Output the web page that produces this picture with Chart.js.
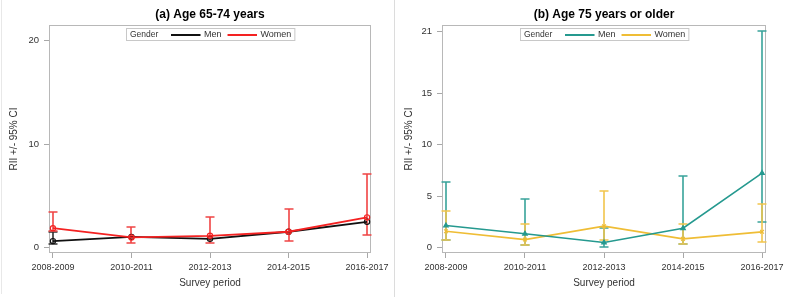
<!DOCTYPE html>
<html><head><meta charset="utf-8">
<script src="https://cdn.jsdelivr.net/npm/chart.js@4.4.1/dist/chart.umd.min.js"></script>
<style>
html,body{margin:0;padding:0;background:#fff;}
#wrap{position:relative;width:789px;height:297px;overflow:hidden;background:#fff;}
.panel{position:absolute;top:0;width:394px;height:297px;}
#pa{left:0;}
#pb{left:395px;}
#frameL{position:absolute;left:1px;top:0;width:1px;height:294px;background:#e8e8e8;}
#divider{position:absolute;left:394px;top:0;width:1px;height:297px;background:#dcdcdc;}
</style></head>
<body>
<div id="wrap">
  <div id="frameL"></div>
  <div id="divider"></div>
  <div class="panel" id="pa"><canvas id="ca" width="394" height="297"></canvas></div>
  <div class="panel" id="pb"><canvas id="cb" width="394" height="297"></canvas></div>
</div>
<script>
// ---------- data ----------
const categories = ['2008-2009','2010-2011','2012-2013','2014-2015','2016-2017'];

// (a) Age 65-74 years  (null = interval hidden behind the women's interval in the source)
const menA      = [0.65, 1.06, 0.87, 1.55, 2.51];
const menALow   = [0.33, null, null, null, null];
const menAHigh  = [1.50, null, null, null, null];
const womenA     = [1.90, 1.00, 1.16, 1.55, 2.94];
const womenALow  = [1.58, 0.43, 0.48, 0.62, 1.20];
const womenAHigh = [3.50, 2.00, 2.97, 3.70, 7.12];
const yTicksA = [0, 10, 20];

// (b) Age 75 years or older
const menB      = [2.16, 1.36, 0.52, 1.90, 7.25];
const menBLow   = [0.75, 0.32, 0.07, 0.42, 2.50];
const menBHigh  = [6.40, 4.71, 1.96, 6.97, 21.0];
const womenB     = [1.61, 0.80, 2.10, 0.87, 1.55];
const womenBLow  = [0.75, 0.30, 0.78, 0.42, 0.52];
const womenBHigh = [3.60, 2.30, 5.55, 2.30, 4.23];
const yTicksB = [0, 5, 10, 15, 21];

const FONT = "'Liberation Sans', Arial, sans-serif";
const TXT = '#333333';

// ---------- plugins ----------
const boxPlugin = {
  id:'box',
  beforeDatasetsDraw(chart){
    const a = chart.chartArea, c = chart.ctx;
    c.save(); c.strokeStyle='#b8b8b8'; c.lineWidth=1;
    c.strokeRect(Math.round(a.left)+0.5, Math.round(a.top)+0.5, Math.round(a.right-a.left)-1, Math.round(a.bottom-a.top)-1);
    c.restore();
  }
};
const errPlugin = {
  id:'err',
  beforeDatasetsDraw(chart){
    const c = chart.ctx, xs = chart.scales.x, ys = chart.scales.y;
    chart.data.datasets.forEach(ds=>{
      c.save(); c.strokeStyle = ds.errColor; c.lineWidth = 1.6;
      ds.errLow.forEach((lo,i)=>{
        const hi = ds.errHigh[i];
        if (lo == null || hi == null) return;
        const x = Math.round(xs.getPixelForValue(i));
        const y1 = Math.round(ys.getPixelForValue(lo)), y2 = Math.round(ys.getPixelForValue(hi));
        c.beginPath();
        c.moveTo(x,y1); c.lineTo(x,y2);
        c.moveTo(x-4.5,y1); c.lineTo(x+4.5,y1);
        c.moveTo(x-4.5,y2); c.lineTo(x+4.5,y2);
        c.stroke();
      });
      c.restore();
    });
  }
};
const titlePlugin = {
  id:'ttl',
  afterDraw(chart){
    const o = chart.options.plugins.ttl, a = chart.chartArea, c = chart.ctx;
    c.save(); c.font = "bold 12px "+FONT; c.fillStyle='#000';
    c.textAlign='center'; c.textBaseline='middle';
    c.fillText(o.text, (a.left+a.right)/2, 14.5);
    c.restore();
  }
};
const legendPlugin = {
  id:'leg',
  afterDraw(chart){
    const a = chart.chartArea, c = chart.ctx, dss = chart.data.datasets;
    c.save();
    c.font = "9px "+FONT;
    const wG = c.measureText('Gender').width;
    const wN = dss.map(d=>c.measureText(d.label).width);
    const pad=3.5, gG=11, lineW=29.5, gL=3.5, gI=6;
    let total = pad + wG + gG;
    dss.forEach((d,i)=>{ total += lineW + gL + wN[i] + (i<dss.length-1?gI:0); });
    total += pad;
    const cx = (a.left+a.right)/2, x0 = Math.round(cx-total/2)+0.5, y0 = Math.round(a.top)+3.5, h=12;
    c.fillStyle='#fff'; c.fillRect(x0,y0,total,h);
    c.strokeStyle='#c8c8c8'; c.lineWidth=1; c.strokeRect(x0,y0,total,h);
    const ym = y0 + h/2;
    c.fillStyle=TXT; c.textBaseline='middle'; c.textAlign='left';
    c.font = "8.5px "+FONT;
    let x = x0+pad; c.fillText('Gender', x, ym+0.5); x += wG + gG;
    c.font = "9px "+FONT;
    dss.forEach((d,i)=>{
      c.strokeStyle = d.borderColor; c.lineWidth = 2;
      c.beginPath(); c.moveTo(x, Math.round(ym)); c.lineTo(x+lineW, Math.round(ym)); c.stroke();
      x += lineW + gL;
      c.fillStyle=TXT; c.fillText(d.label, x, ym+0.5);
      x += wN[i] + gI;
    });
    c.restore();
  }
};

// ---------- chart builder ----------
function makeChart(id, title, yTicks, yMax, yAxisW, series){
  return new Chart(document.getElementById(id), {
    type:'line',
    data:{
      datasets: series.map(s=>({
        label:s.name,
        data:s.values.map((v,i)=>({x:i,y:v})),
        borderColor:s.color,
        backgroundColor:s.fill,
        pointBackgroundColor:s.fill,
        pointBorderColor:s.color,
        borderWidth:s.width,
        pointStyle:s.marker,
        pointRadius:2.6,
        pointBorderWidth:1.2,
        tension:0,
        order:s.order,
        errLow:s.low, errHigh:s.high, errColor:s.errColor
      }))
    },
    options:{
      responsive:false, animation:false, devicePixelRatio:1,
      layout:{padding:{top:25,right:23,left:0,bottom:0}},
      plugins:{legend:{display:false}, title:{display:false}, tooltip:{enabled:false}, ttl:{text:title}},
      scales:{
        x:{
          type:'linear', min:-0.05, max:4.05,
          afterBuildTicks:ax=>{ ax.ticks = categories.map((c,i)=>({value:i})); },
          ticks:{callback:(v)=>categories[Math.round(v)], font:{family:FONT,size:9}, color:TXT, padding:4, maxRotation:0, autoSkip:false},
          grid:{display:true, drawOnChartArea:false, tickLength:5, color:'#a8a8a8'},
          border:{display:false},
          title:{display:true, text:'Survey period', font:{family:FONT,size:10}, color:TXT, padding:{top:6,bottom:8}},
          afterFit:s=>{ s.height = 44; }
        },
        y:{
          type:'linear', min:-0.5, max:yMax,
          afterBuildTicks:ax=>{ ax.ticks = yTicks.map(v=>({value:v})); },
          ticks:{font:{family:FONT,size:9.5}, color:TXT, padding:5},
          grid:{display:true, drawOnChartArea:false, tickLength:5, color:'#a8a8a8'},
          border:{display:false},
          title:{display:true, text:'RII +/- 95% CI', font:{family:FONT,size:10}, color:TXT, padding:{top:8,bottom:0}},
          afterFit:s=>{ s.width = yAxisW; }
        }
      }
    },
    plugins:[boxPlugin, errPlugin, titlePlugin, legendPlugin]
  });
}

makeChart('ca', '(a) Age 65-74 years', yTicksA, 21.5, 49, [
  {name:'Men', values:menA, low:menALow, high:menAHigh, color:'#111111', fill:'rgba(255,255,255,0)', errColor:'#333333', width:1.8, marker:'circle', order:2},
  {name:'Women', values:womenA, low:womenALow, high:womenAHigh, color:'#f42222', fill:'rgba(255,255,255,0)', errColor:'#f04444', width:1.8, marker:'circle', order:1}
]);
makeChart('cb', '(b) Age 75 years or older', yTicksB, 21.6, 47, [
  {name:'Men', values:menB, low:menBLow, high:menBHigh, color:'#25998f', fill:'#25998f', errColor:'#38a39a', width:1.6, marker:'triangle', order:1},
  {name:'Women', values:womenB, low:womenBLow, high:womenBHigh, color:'#efbd35', fill:'#efbd35', errColor:'#f2c54c', width:1.6, marker:'crossRot', order:2}
]);
</script>
</body></html>
